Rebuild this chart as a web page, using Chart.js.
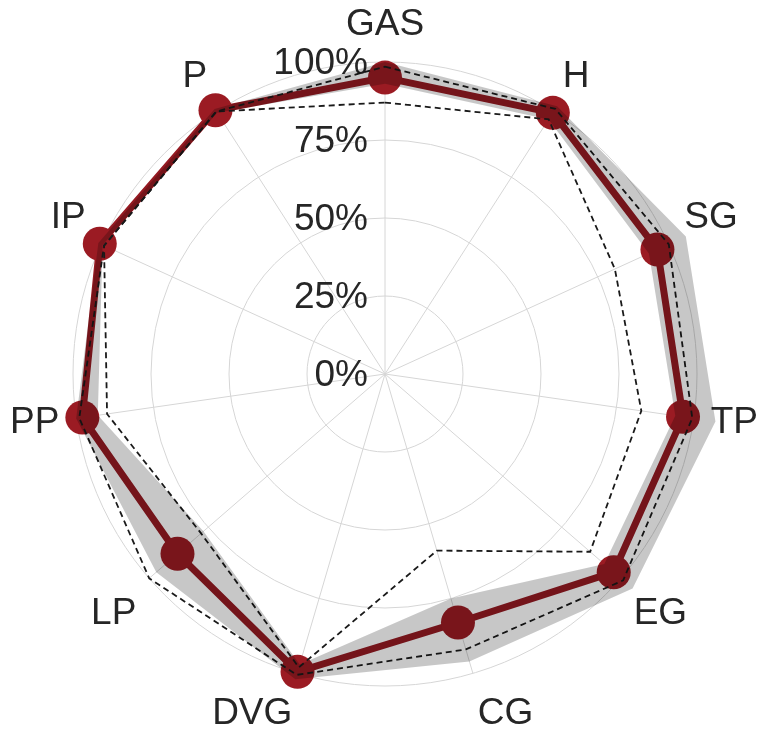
<!DOCTYPE html>
<html lang="en">
<head>
  <meta charset="UTF-8" />
  <title>Radar</title>
  <script src="https://cdn.jsdelivr.net/npm/chart.js"></script>
  <style>
    html, body { margin: 0; padding: 0; background: #fff; }
    #wrap { width: 757px; height: 734px; }
  </style>
</head>
<body>
  <div id="wrap"><canvas id="radarChart" width="757" height="734"></canvas></div>
  <script>
    // axes (clockwise from top)
    const categories = ["GAS", "H", "SG", "TP", "EG", "CG", "DVG", "LP", "PP", "IP", "P"];
    // red line: mean score (%)
    const meanValues = [95, 99.5, 96, 96.5, 97, 83, 99.5, 88, 98, 100.5, 100.5];
    // grey band: spread around the mean
    const bandHigh = [100, 102, 106, 107, 105, 96, 102, 97, 100, 101, 101];
    const bandLow = [93, 97, 93, 94, 93, 75, 97, 77, 93, 99.5, 99.5];
    // dashed reference lines
    const outerDashed = [98.5, 101, 100, 99.5, 101, 92, 100.5, 100, 99, 99, 100];
    const innerDashed = [87, 97, 81, 83, 87, 59, 98, 78, 90, 99, 100];
    // radial tick labels
    const tickValues = [0, 25, 50, 75, 100];
    const tickLabels = ["0%", "25%", "50%", "75%", "100%"];

    const FONT = '"Liberation Sans", Arial, sans-serif';
    const TEXT_COLOR = "#262626";

    // tick labels left of the vertical axis + axis labels round the rim
    const labelPlugin = {
      id: "labelPlugin",
      beforeDatasetsDraw(chart) {
        const s = chart.scales.r;
        const ctx = chart.ctx;
        ctx.save();
        ctx.font = "37px " + FONT;
        ctx.fillStyle = TEXT_COLOR;
        ctx.textBaseline = "middle";

        ctx.textAlign = "right";
        tickValues.forEach((v, i) => {
          const d = s.getDistanceFromCenterForValue(v);
          ctx.fillText(tickLabels[i], s.xCenter - 17, s.yCenter - d + 2);
        });

        categories.forEach((name, i) => {
          const a = s.getIndexAngle(i);
          const sin = Math.sin(a), cos = Math.cos(a);
          const p = s.getPointPosition(i, s.drawingArea + 17);
          ctx.textAlign = Math.abs(sin) < 0.05 ? "center" : (sin > 0 ? "left" : "right");
          let y = p.y;
          if (Math.abs(cos) >= 0.2) y += cos > 0 ? -22 : 22;
          ctx.fillText(name, p.x, y + 2);
        });
        ctx.restore();
      }
    };

    const ctx = document.getElementById("radarChart").getContext("2d");
    new Chart(ctx, {
      type: "radar",
      data: {
        labels: categories,
        datasets: [
          {
            label: "band high",
            data: bandHigh,
            borderWidth: 0,
            pointRadius: 0,
            backgroundColor: "rgba(0,0,0,0.22)",
            fill: "+1",
            clip: false,
            order: 0
          },
          {
            label: "band low",
            data: bandLow,
            borderWidth: 0,
            pointRadius: 0,
            fill: false,
            clip: false,
            order: 1
          },
          {
            label: "outer",
            data: outerDashed,
            borderColor: "#1a1a1a",
            borderWidth: 1.8,
            borderDash: [6, 4],
            pointRadius: 0,
            fill: false,
            clip: false,
            order: 2
          },
          {
            label: "inner",
            data: innerDashed,
            borderColor: "#1a1a1a",
            borderWidth: 1.8,
            borderDash: [6, 4],
            pointRadius: 0,
            fill: false,
            clip: false,
            order: 2
          },
          {
            label: "mean",
            data: meanValues,
            borderColor: "#951a22",
            borderWidth: 7,
            pointRadius: 17,
            pointBackgroundColor: "#9b1b23",
            pointBorderWidth: 0,
            fill: false,
            clip: false,
            order: 3
          }
        ]
      },
      options: {
        responsive: false,
        animation: false,
        // plot area gives radius 312 centred at (385, 374)
        layout: { padding: { left: 50, right: 37, top: 62, bottom: 48 } },
        plugins: {
          legend: { display: false },
          tooltip: { enabled: false }
        },
        elements: { line: { tension: 0 } },
        scales: {
          r: {
            min: 0,
            max: 100,
            ticks: { stepSize: 25, display: false },
            grid: { circular: true, color: "#d6d6d6", lineWidth: 1 },
            angleLines: { color: "#d6d6d6", lineWidth: 1 },
            pointLabels: { display: false }
          }
        }
      },
      plugins: [labelPlugin]
    });
  </script>
</body>
</html>
